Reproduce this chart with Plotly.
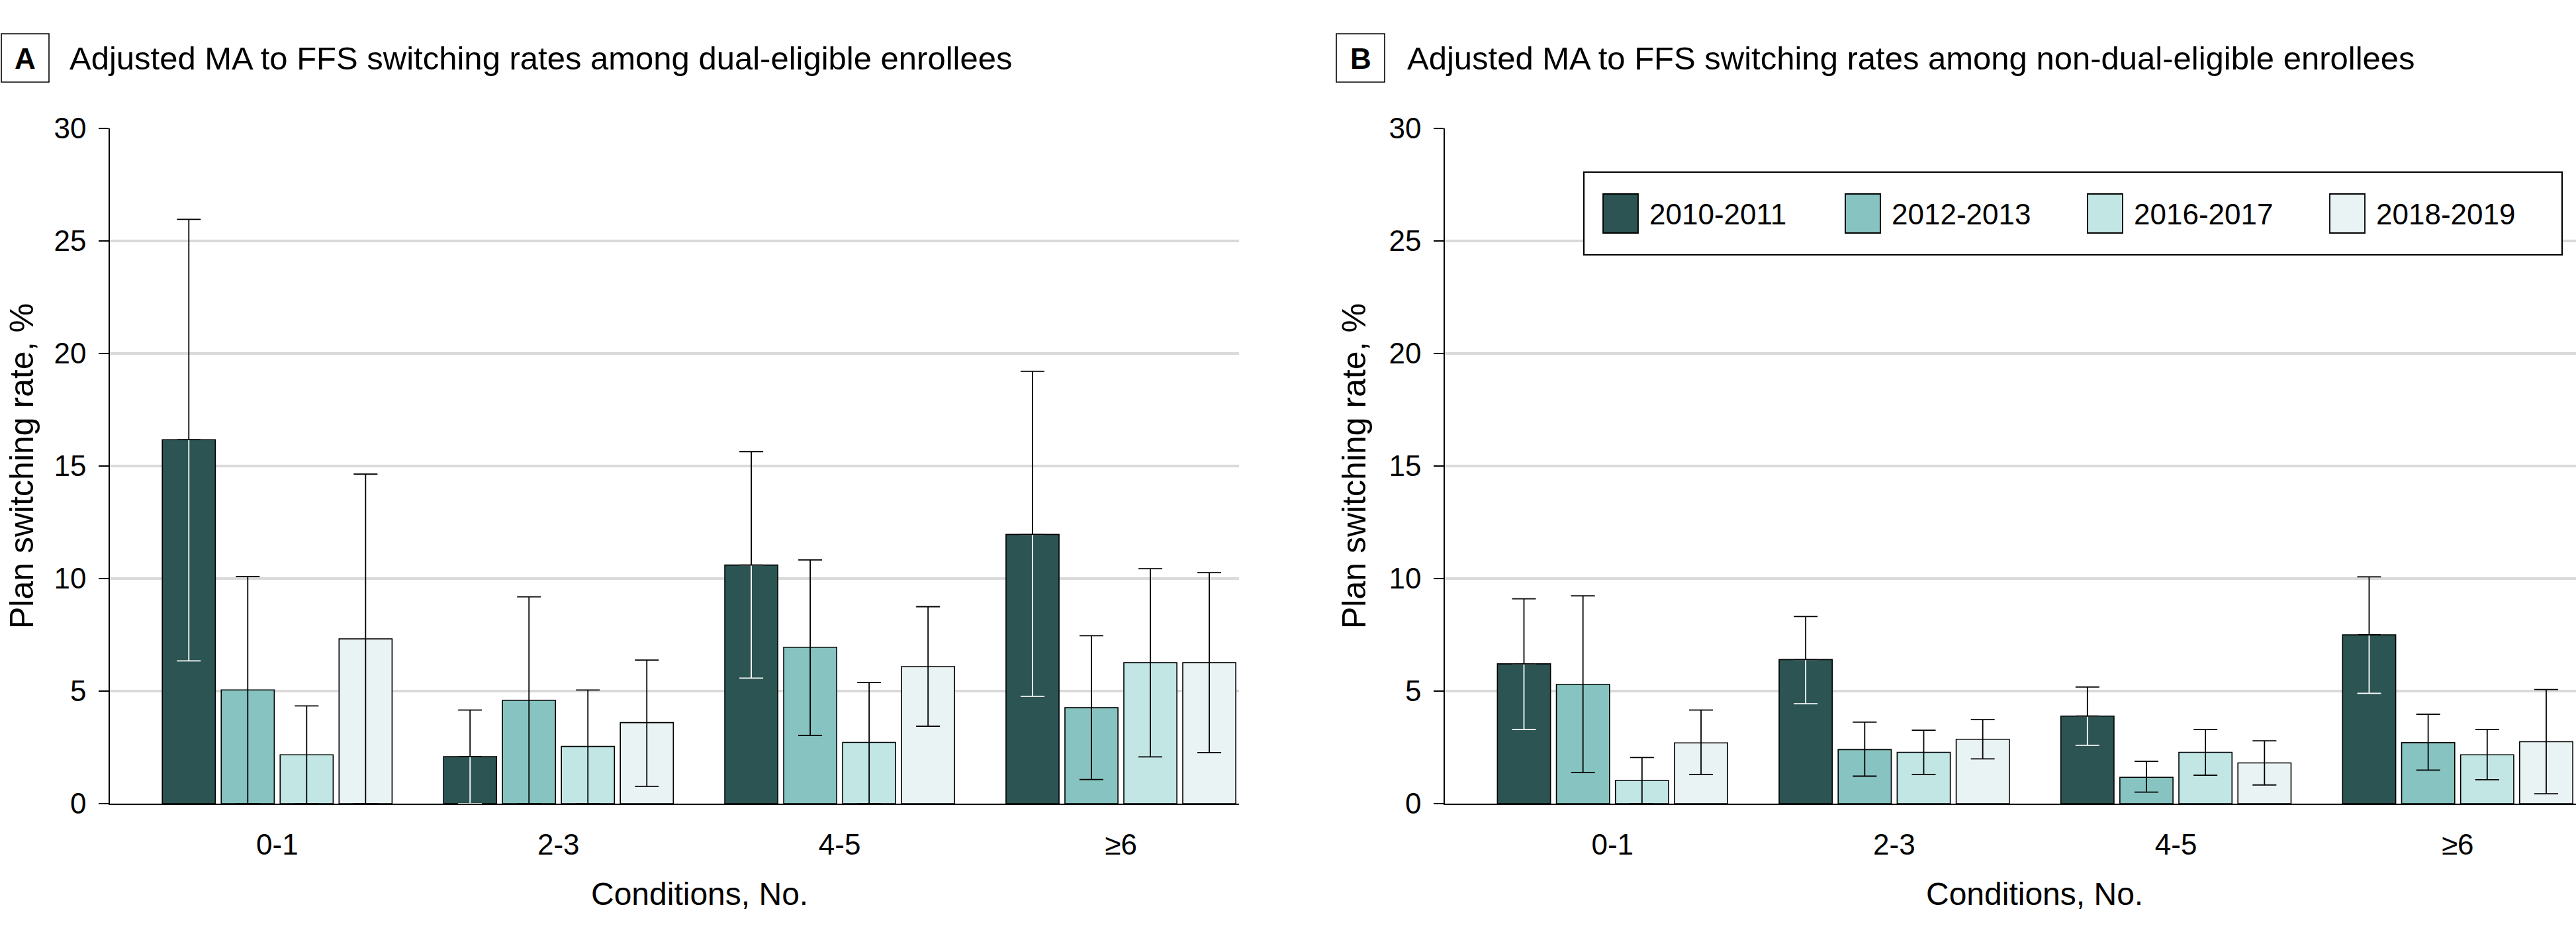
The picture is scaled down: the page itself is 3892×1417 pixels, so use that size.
import plotly.graph_objects as go

W, H = 3892, 1417

categories = ['0-1', '2-3', '4-5', '≥6']
periods = ['2010-2011', '2012-2013', '2016-2017', '2018-2019']
colors = ['#2b5452', '#86c3c1', '#c1e6e4', '#eaf3f4']

# Panel A: dual-eligible enrollees (rate, upper CI, lower CI)
a_rate_2010 = [16.17, 2.09, 10.60, 11.96]
a_hi_2010 = [25.96, 4.16, 15.64, 19.21]
a_lo_2010 = [6.34, 0.0, 5.58, 4.77]
a_rate_2012 = [5.05, 4.59, 6.95, 4.26]
a_hi_2012 = [10.09, 9.19, 10.83, 7.46]
a_lo_2012 = [0.0, 0.0, 3.03, 1.07]
a_rate_2016 = [2.17, 2.54, 2.72, 6.26]
a_hi_2016 = [4.34, 5.05, 5.38, 10.44]
a_lo_2016 = [0.0, 0.0, 0.0, 2.08]
a_rate_2018 = [7.32, 3.60, 6.09, 6.26]
a_hi_2018 = [14.64, 6.38, 8.75, 10.26]
a_lo_2018 = [0.0, 0.77, 3.44, 2.27]

# Panel B: non-dual-eligible enrollees
b_rate_2010 = [6.21, 6.40, 3.89, 7.50]
b_hi_2010 = [9.10, 8.31, 5.18, 10.08]
b_lo_2010 = [3.29, 4.44, 2.59, 4.90]
b_rate_2012 = [5.30, 2.40, 1.17, 2.71]
b_hi_2012 = [9.23, 3.62, 1.88, 3.97]
b_lo_2012 = [1.38, 1.22, 0.51, 1.49]
b_rate_2016 = [1.03, 2.28, 2.28, 2.17]
b_hi_2016 = [2.05, 3.26, 3.30, 3.30]
b_lo_2016 = [0.0, 1.30, 1.26, 1.06]
b_rate_2018 = [2.70, 2.86, 1.81, 2.75]
b_hi_2018 = [4.16, 3.73, 2.79, 5.07]
b_lo_2018 = [1.30, 1.99, 0.83, 0.44]

y_ticks = [0, 5, 10, 15, 20, 25, 30]

panel_titles = ['Adjusted MA to FFS switching rates among dual-eligible enrollees',
                'Adjusted MA to FFS switching rates among non-dual-eligible enrollees']
panel_letters = ['A', 'B']
x_title = 'Conditions, No.'
y_title = 'Plan switching rate, %'

FONT = 'Liberation Sans, Arial, sans-serif'

panels = [
    [(a_rate_2010, a_hi_2010, a_lo_2010), (a_rate_2012, a_hi_2012, a_lo_2012),
     (a_rate_2016, a_hi_2016, a_lo_2016), (a_rate_2018, a_hi_2018, a_lo_2018)],
    [(b_rate_2010, b_hi_2010, b_lo_2010), (b_rate_2012, b_hi_2012, b_lo_2012),
     (b_rate_2016, b_hi_2016, b_lo_2016), (b_rate_2018, b_hi_2018, b_lo_2018)],
]

def px(x):
    return x / W

def py(y):
    return 1 - y / H

fig = go.Figure()
ERR_W = 18
ERR_T = 1.8
for p, series in enumerate(panels):
    xa = 'x' if p == 0 else 'x2'
    ya = 'y' if p == 0 else 'y2'
    for s, (rate, hi, lo) in enumerate(series):
        up = [h - r for h, r in zip(hi, rate)]
        dn = [r - l for r, l in zip(rate, lo)]
        og = f'g{p}{s}'
        if s == 0:
            fig.add_trace(go.Bar(x=categories, y=rate, xaxis=xa, yaxis=ya, offsetgroup=og,
                                 marker=dict(color=colors[s], line=dict(color='black', width=1.6)),
                                 name=periods[s], showlegend=False))
            fig.add_trace(go.Bar(x=categories, y=rate, xaxis=xa, yaxis=ya, offsetgroup=og,
                                 marker=dict(color='rgba(0,0,0,0)', line=dict(width=0)),
                                 error_y=dict(type='data', symmetric=False, array=[0]*len(rate),
                                              arrayminus=dn, color='white', thickness=ERR_T, width=ERR_W),
                                 showlegend=False, hoverinfo='skip'))
            fig.add_trace(go.Bar(x=categories, y=rate, xaxis=xa, yaxis=ya, offsetgroup=og,
                                 marker=dict(color='rgba(0,0,0,0)', line=dict(width=0)),
                                 error_y=dict(type='data', symmetric=False, array=up,
                                              arrayminus=[0]*len(rate), color='black', thickness=ERR_T, width=ERR_W),
                                 showlegend=False, hoverinfo='skip'))
        else:
            fig.add_trace(go.Bar(x=categories, y=rate, xaxis=xa, yaxis=ya, offsetgroup=og,
                                 marker=dict(color=colors[s], line=dict(color='black', width=1.6)),
                                 error_y=dict(type='data', symmetric=False, array=up, arrayminus=dn,
                                              color='black', thickness=ERR_T, width=ERR_W),
                                 name=periods[s], showlegend=False))

doms = [(166, 1872), (2183, 3892)]
xrange_ = [-0.595, 3.42]
axis_common = dict(tickfont=dict(family=FONT, size=44, color='black'), automargin=False)
for p in range(2):
    xk = 'xaxis' if p == 0 else 'xaxis2'
    yk = 'yaxis' if p == 0 else 'yaxis2'
    fig.update_layout(**{
        xk: dict(domain=[px(doms[p][0]), px(doms[p][1])], range=xrange_, type='category',
                 showline=True, linecolor='black', linewidth=2, showgrid=False, ticks='',
                 ticklabelstandoff=22, anchor='y' if p == 0 else 'y2', **axis_common),
        yk: dict(domain=[py(1214), py(194)], range=[0, 30], tickvals=y_ticks,
                 showline=True, linecolor='black', linewidth=1.6, ticks='outside', ticklen=15,
                 tickwidth=1.6, tickcolor='black', showgrid=True, gridcolor='#dadada', gridwidth=4,
                 zeroline=False, ticklabelstandoff=10, anchor='x' if p == 0 else 'x2', **axis_common),
    })

shapes = []
annotations = []
# Panel letters and titles
box_x = [(2, 74), (2019, 2092)]
title_x = [103, 2124]
for p in range(2):
    shapes.append(dict(type='rect', xref='paper', yref='paper',
                       x0=px(box_x[p][0]), x1=px(box_x[p][1]), y0=py(124), y1=py(51),
                       line=dict(color='black', width=1.6), fillcolor='white'))
    annotations.append(dict(text='<b>' + panel_letters[p] + '</b>', xref='paper', yref='paper',
                            x=px((box_x[p][0] + box_x[p][1]) / 2), y=py(88), xanchor='center',
                            yanchor='middle', showarrow=False,
                            font=dict(family=FONT, size=44, color='black')))
    annotations.append(dict(text=panel_titles[p], xref='paper', yref='paper',
                            x=px(title_x[p]), y=py(88), xanchor='left', yanchor='middle',
                            showarrow=False, font=dict(family=FONT, size=49, color='black')))

# Axis titles
ytitle_x = [33, 2046]
xtitle_x = [1057, 3074]
for p in range(2):
    annotations.append(dict(text=y_title, xref='paper', yref='paper', x=px(ytitle_x[p]),
                            y=py(704), textangle=-90, xanchor='center', yanchor='middle',
                            showarrow=False, font=dict(family=FONT, size=50, color='black')))
    annotations.append(dict(text=x_title, xref='paper', yref='paper', x=px(xtitle_x[p]),
                            y=py(1350), xanchor='center', yanchor='middle',
                            showarrow=False, font=dict(family=FONT, size=48, color='black')))

# Legend (drawn manually for large swatches)
shapes.append(dict(type='rect', xref='paper', yref='paper', x0=px(2393), x1=px(3871),
                   y0=py(385), y1=py(260), line=dict(color='black', width=2.2), fillcolor='white',
                   layer='above'))
for i, per in enumerate(periods):
    sx = 2422 + 366 * i
    shapes.append(dict(type='rect', xref='paper', yref='paper', x0=px(sx), x1=px(sx + 53),
                       y0=py(352), y1=py(293), line=dict(color='black', width=1.8),
                       fillcolor=colors[i], layer='above'))
    annotations.append(dict(text=per, xref='paper', yref='paper', x=px(sx + 68), y=py(323),
                            xanchor='left', yanchor='middle', showarrow=False,
                            font=dict(family=FONT, size=44, color='black')))

fig.update_layout(width=W, height=H, margin=dict(l=0, r=0, t=0, b=0, autoexpand=False),
                  paper_bgcolor='white', plot_bgcolor='white', barmode='group',
                  bargap=0.162, bargroupgap=0.1, showlegend=False,
                  shapes=shapes, annotations=annotations,
                  font=dict(family=FONT, color='black'))

fig.write_html('out.html', config={'displayModeBar': False},
               post_script="document.body.style.margin='0';document.body.style.overflow='hidden';")
